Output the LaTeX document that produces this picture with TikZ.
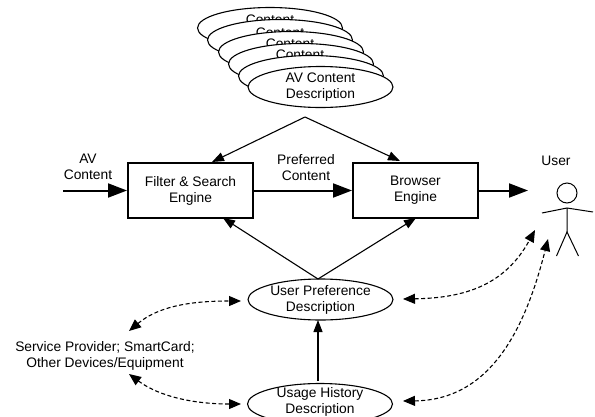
\documentclass[tikz,border=0pt]{standalone}
\usepackage{fontspec}
\setmainfont{Liberation Sans}
\usetikzlibrary{shapes.geometric,arrows.meta,calc}
\tikzset{
 ell/.style={draw,ellipse,fill=white,line width=1.1pt,minimum width=145pt,minimum height=41pt,inner sep=0pt,align=center,font=\fontsize{13.8}{16}\selectfont},
 sh/.style={font=\fontsize{13.8}{16}\selectfont,align=center,inner sep=0pt},
 boxn/.style={draw,line width=2pt,minimum width=125pt,minimum height=55pt,inner sep=0pt,align=center,font=\fontsize{13.8}{16}\selectfont},
 thin arr/.style={line width=1.1pt,-{Triangle[length=12pt,width=9pt]}},
 thick arr/.style={line width=2pt,-{Triangle[length=19pt,width=14pt]}},
 dash arr/.style={line width=1.1pt,dash pattern=on 4pt off 2.5pt,{Triangle[length=12pt,width=10pt]}-{Triangle[length=12pt,width=10pt]}},
 fig/.style={line width=1pt}
}
\begin{document}
\begin{tikzpicture}[x=1pt,y=-1pt]
\useasboundingbox (0,0) rectangle (595,416);
\clip (0,0) rectangle (595,416);
\node[ell] (c1) at (270,28) {};
\node[sh] (t1) at (270,20) {Content};
\node[ell] (c2) at (280,40) {};
\node[sh] (t2) at (280,33) {Content};
\node[ell] (c3) at (291,52) {};
\node[sh] (t3) at (290,44) {Content};
\node[ell] (c4) at (301,64) {};
\node[sh] (t4) at (300,55) {Content};
\node[ell] (c5) at (311,76) {};
\node[ell] (c6) at (320.5,87) {AV Content\\Description};
\coordinate (apex) at (305,117);
\node[boxn] (fs) at (190.5,190.5) {Filter \& Search\\Engine};
\node[boxn] (br) at (415.5,190.5) {Browser\\Engine};
\node[sh] (av) at (88,167) {AV\\Content};
\node[sh] (pc) at (306,168) {Preferred\\Content};
\node[sh] (us) at (556,161) {User};
\coordinate (in) at (63,190.5);
\draw[thick arr] (in) -- (fs.west);
\draw[thick arr] (fs.east) -- (br.west);
\coordinate (ua) at (528,190.5);
\draw[thick arr] (br.east) -- (ua);
\draw[thin arr] (apex) -- (212,162);
\draw[thin arr] (apex) -- (400,161);
\node[ell] (up) at (320.5,299.5) {User Preference\\Description};
\node[ell] (uh) at (320,404) {};
\node[sh] (uht) at (320,401.5) {Usage History\\Description};
\coordinate (upt) at (318,279);
\draw[thin arr] (upt) -- (223,218);
\draw[thin arr] (upt) -- (416,218);
\draw[thin arr] (318,381) -- (318,320);
\node[sh] (sp) at (105,356) {Service Provider; SmartCard;\\Other Devices/Equipment};
\coordinate (sa) at (129,331);
\coordinate (sb) at (129,374);
\coordinate (a1) at (241,301);
\coordinate (a2) at (241,404);
\draw[dash arr] (sa) .. controls (160,305) and (195,301) .. (a1);
\draw[dash arr] (sb) .. controls (160,397) and (195,404) .. (a2);
\coordinate (u1) at (535,230);
\coordinate (u2) at (548,239);
\coordinate (b1) at (403,299);
\coordinate (b2) at (403,401);
\draw[dash arr] (b1) .. controls (465,298) and (505,285) .. (u1);
\draw[dash arr] (b2) .. controls (490,400) and (525,330) .. (u2);
\draw[fig] (567,193) circle (10);
\coordinate (neck) at (567,208);
\draw[fig] (neck) -- (567,232) (542,213) -- (neck) -- (593,212);
\draw[fig] (556.5,256) -- (567,232) -- (578.5,256);
\end{tikzpicture}
\end{document}
